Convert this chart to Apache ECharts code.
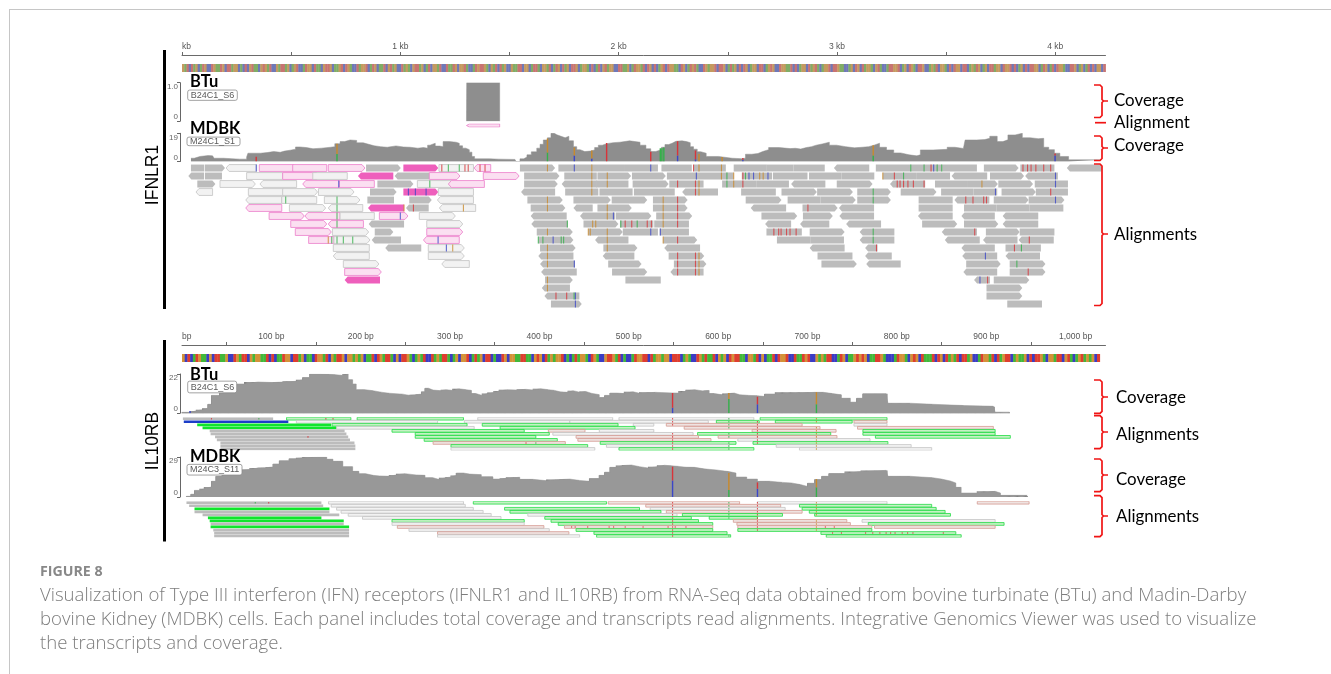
<!DOCTYPE html>
<html><head><meta charset="utf-8">
<style>
html,body{margin:0;padding:0;background:#fff;width:1331px;height:674px;overflow:hidden}
#frame{position:absolute;left:9px;top:9px;width:1340px;height:700px;border:1px solid #c6c6c6;box-sizing:border-box}
#chart{position:absolute;left:0;top:0;width:1331px;height:674px;filter:blur(0.35px)}
.cap{position:absolute;left:40px;font-family:"Open Sans",Lato,sans-serif;color:#7d7d7d;white-space:nowrap}
</style>
<script src="https://cdn.jsdelivr.net/npm/echarts@6/dist/echarts.min.js"></script>
</head><body>
<div id="frame"></div>
<div id="chart"></div>
<div class="cap" style="top:561px;font-size:14.2px;font-weight:700;color:#888">FIGURE 8</div>
<div class="cap" style="top:582px;font-size:18.6px;line-height:24px;font-weight:300">Visualization of Type III interferon (IFN) receptors (IFNLR1 and IL10RB) from RNA-Seq data obtained from bovine turbinate (BTu) and Madin-Darby<br>bovine Kidney (MDBK) cells. Each panel includes total coverage and transcripts read alignments. Integrative Genomics Viewer was used to visualize<br>the transcripts and coverage.</div>
<script>
// ---------- data ----------
const ifnMaxBp = 4230, ilMaxBp = 1033.5;
const ifnLabelTicks = [0,1000,2000,3000,4000];
const ifnMinorTicks = [0,500,1000,1500,2000,2500,3000,3500,4000];
const ilLabelTicks = [0,100,200,300,400,500,600,700,800,900,1000];
const ilMinorTicks = [50,150,250,350,450,550,650,750,850,950];

const ifnSeq = "GATCTAGCATGCCTGAATGCTTAGGCACTCGTAACGTGATCCGATTAGCAGTCCATGGCTAACGTTGCAAGTCTGACCTAGGTCATGCAATCGTAGCCTAGACGTTAGCATCGGATCCTAATGCGGTACCATGTTGACGATCTAGCCGAATTCGGCATTACGGATCATGCTAGCTTGCAGGACTCATCGTAGGCCTTAAGCATGGATCTGCTCAGTCTGGAACTGCATGTACCTGAGGTCTTGCATAGCTCTGCAGGCTTCAGTGCCTGGAATCTCAGGCTAGTACAGGTCTTGAACCAGCTGCTAGGACGTACCATTGGTCAGCTGACTTGCCAGATCGGACTCTGGCTTCAGATGCAGCTTAGGCTGGTCTCAGCTCTTGGCATGCATCTGGACCTTGCAGCATCTCGGCT";
const ilSeq = "GCTCATGAACGCTTAAGCCTGATTCGAGGAATCTCAATGGCTTAGCAACTGGATCGATTGCGGAGAGCAATCTGATTACGCTTGACAGATCCTAGATTACAGCGGTCATAGCTTCACCTGCGGAATTAACGTGCTAGAGGTCACATAGGACTGACCGTTGATCACCATGGTTCTAGGAGGCTTTCAGACCTGATAATCGAGCTGTTAACGGATCGCAATCTGGTCCTAATGTCCGAGATTCCATGCAAGTGTGCAATTGACCCATGGACGTGCTAAATCTGCTAGATCTTAGCCATGGATCTAGTTCAGAAGCTCTTGACGGATTCGTACAGTAGAGCT";

const ifnBtuCov = [[1303,0],[1304,1],[1455,0]];
const ifnBtuRead = ["p1303-1455<"];
const ifnMdbkCov = [[41,2.2],[56,2.8],[70,3.4],[82,4],[120,3.8],[140,4],[147,2.2],[190,1.6],[265,1.6],[296,3],[302,5.6],[342,5.6],[360,6],[390,6.7],[420,6.2],[450,7],[470,7.6],[495,8.3],[520,9.8],[540,9.4],[570,8.6],[600,9],[640,9.6],[680,10],[700,12],[724,13.4],[745,14.5],[770,14.2],[800,12.6],[830,11.6],[855,10.6],[880,10],[910,9.6],[940,10.5],[980,9.8],[1014,9.6],[1045,9],[1080,9.4],[1106,9],[1125,11],[1136,12.3],[1160,10.4],[1180,10],[1196,13.4],[1225,13],[1255,12.3],[1270,10.6],[1285,9],[1300,8],[1316,6.3],[1328,3.4],[1340,1.8],[1410,1.6],[1450,1.4],[1525,1.1],[1530,0],[1548,1.8],[1565,3],[1580,4.5],[1600,6.5],[1625,9],[1640,11.6],[1655,14.5],[1674,16],[1690,19],[1705,18],[1717,17],[1736,16],[1755,17],[1772,14],[1793,10],[1808,8],[1823,6.7],[1845,7],[1870,7.8],[1890,9.4],[1907,11],[1925,12],[1945,12.7],[1975,13],[2006,13.9],[2050,13],[2098,11],[2125,8.6],[2147,6.7],[2170,8],[2196,9.6],[2212,11.4],[2229,12.3],[2245,13.6],[2262,13.9],[2290,13.4],[2311,12.7],[2328,10],[2343,8.3],[2360,6.6],[2376,5.6],[2401,3.4],[2458,2.2],[2520,1.9],[2564,2.2],[2581,4.9],[2610,5.4],[2638,6.7],[2660,8],[2687,9.4],[2735,8.7],[2785,8.9],[2810,8.4],[2834,9.4],[2860,10],[2883,11],[2905,11.8],[2932,13],[2965,11],[2998,10],[3040,9.2],[3080,9.6],[3115,10],[3145,11],[3170,12.3],[3195,9.6],[3227,7.8],[3260,5.8],[3292,4.5],[3330,3.8],[3366,4.5],[3382,7.8],[3440,8.2],[3505,9.6],[3540,8.8],[3579,10],[3587,14.5],[3640,14.8],[3677,15.6],[3700,17],[3734,13.4],[3760,14.6],[3783,17.9],[3816,19],[3849,16],[3885,15.4],[3922,15.6],[3947,9.6],[3970,8],[3996,5.6],[4021,3.4],[4061,1.1],[4210,1.1]];
const ifnMdbkCovMarks = [[340,0,3.2,'T'],[710,0,5,'A'],[710,5,12,'G'],[1674,0,6,'A'],[1674,6,15.5,'G'],[1797,0,4,'C'],[1797,4,9.5,'G'],[1877,0,2,'C'],[1877,2,7.4,'G'],[1945,0,12.4,'T'],[2147,0,6.5,'T'],[2191,0,9,'A'],[2198,0,9,'A'],[2207,0,9.5,'A'],[2270,0,4,'C'],[2270,4,13.6,'T'],[2352,0,1.5,'C'],[2352,1.5,7.4,'T'],[2368,0,5,'G'],[2474,0,3,'G'],[2569,0,1.2,'C'],[2569,1.2,2.4,'T'],[3166,0,4,'A'],[3166,4,11,'G'],[3999,0,4,'C'],[3999,4,5.4,'T']];
const ifnMdbkLanes = [
"g41-102 g105-197> w202-342< p354-510 p507-663 p670-838> g843-1002> m1014-1174> w1177-1335 p1338-1414< g1548-1709> g1724-1877 g1877-2029 g2029-2180 g2196-2335 g2343-2491 g2527-2679 g2679-2801 g2801-2944 g2986-3148< g3178-3338 g3338-3485 g3485-3641 g3673-3832> g3840-3996 g4053-4212<",
"g29-101< g105-183 w296-461 p461-617 w599-757 m806-968< g974-1133< p1133-1273> p1380-1544> g1567-1729> g1751-1900 g1903-2057> g2061-2216> g2221-2368 g2368-2527 g2564-2703 g2707-2865 g2872-3021 g3021-3171 g3210-3366 g3366-3518 g3525-3688< g3701-3857> g3862-4012<",
"g70-153> w174-336> w357-525< p553-721< p721-881 g895-1060> w1078-1235 p1220-1385< g1567-1721> g1739-1900< g1897-2045 g2064-2229> g2232-2389 g2474-2630 g2630-2780 g2790-2947< g2999-3163> g3243-3404< g3449-3600 g3600-3737> g3739-3898> g3906-4058",
"w64-140< w304-464 w461-621> w625-788> g861-983> m1014-1174> w1174-1335 g1553-1709< g1755-1907 g1912-2064 g2070-2257 g2291-2455< g2561-2720 g2746-2908> g2909-3073> g3093-3247> g3292-3456> g3477-3625 g3625-3734 g3754-3911> g3911-4058",
"w292-457< w457-617 w652-815> g849-971 g1041-1144> w1170-1335< g1582-1744> g1793-1964> g1968-2131> g2157-2316> g2582-2746> g2774-2924 g2924-3086> g3093-3247> g3374-3530 g3538-3698< g3718-3878> g3878-4042>",
"p292-457< w492-658> w670-828< m852-1017< g1026-1130< w1179-1345< g1597-1756> g1793-1881< g1903-2060> g2157-2316> g2605-2767< g2842-3003> g3009-3170< g3374-3530 g3582-3730 g3730-3881 g3881-4037",
"p399-560> p563-724< w724-881 p904-1035> w1087-1252> g1597-1762< g1823-1984< g1987-2150> g2172-2337> g2654-2818> g2844-2981> g3011-3170< g3371-3530< g3570-3723< g3759-3922<",
"p498-663> p670-831< g855-1017< w1121-1286> g1600-1767< g1839-1999> g2006-2159 g2163-2322 g2671-2790< g2831-2965< g3042-3202< g3390-3551> g3582-3739> g3759-3922<",
"p519-684> w689-855> g883-968> p1121-1286> g1625-1790> g1861-2019> g2019-2180 g2188-2322 g2677-2839 g2875-3035> g3104-3263< g3480-3641< g3682-3837> g3837-3996",
"p580-696 w696-861> g869-1003< p1106-1270< g1632-1793> g1892-2045< g2204-2360> g2725-2880 g2880-3032 g3104-3263< g3494-3654< g3669-3827< g3832-3993<",
"w693-858 g931-1096< w1128-1293> g1640-1803> g1930-2086> g2209-2373< g2875-3035< g3129-3186< g3570-3723< g3772-3934",
"w693-858< w1128-1293> g1632-1793< g1927-2072< g2229-2392> g2911-3071 g3129-3251< g3574-3734< g3772-3930<",
"w739-902> w1190-1316< g1640-1800< g1952-2105> g2253-2402> g2929-3091> g3134-3292< g3592-3750> g3791-3955>",
"p745-913> g1645-1808< g1970-2131> g2237-2389< g3579-3734< g3791-3955>",
"m745-907< g1663-1790> g2031-2193 g3628-3701< g3718-3881>",
"g1648-1777< g3685-3849>",
"g1660-1820< g3685-3849>",
"g1690-1831> g3780-3939"];
const ifnMdbkMarks = [[340,'C',[0]],[475,'A',[4]],[710,'A',[4,5,6,7,9]],[718,'C',[2]],[670,'G',[9]],[686,'A',[9]],[739,'A',[9]],[782,'A',[9]],[1000,'C',[6]],[1017,'G',[5]],[1037,'C',[3]],[1069,'C',[3]],[1118,'C',[3]],[1060,'T',[5]],[1289,'G',[5]],[1135,'A',[2]],[1173,'C',[9]],[1211,'C',[10]],[1240,'G',[10]],[1190,'T',[0]],[1220,'A',[0]],[1270,'A',[0]],[1296,'T',[0]],[1311,'T',[0]],[1365,'T',[0]],[1388,'T',[0]],
[1674,'G',[0,4,5,8,10,11,12,14,15]],[1632,'A',[9]],[1653,'A',[9]],[1700,'C',[9]],[1737,'A',[9]],[1748,'A',[9]],[1765,'A',[7]],[1797,'C',[0,12]],[1877,'G',[0,1,2,3]],[1861,'G',[8]],[1870,'G',[8]],[1881,'G',[7]],[1895,'G',[7]],[1948,'G',[1,2,5,6,8,9,10]],[1976,'C',[6]],[2010,'A',[7]],[2030,'T',[7]],[2060,'T',[7]],[2085,'A',[7]],[1713,'T',[16]],[1762,'T',[16]],[1796,'A',[16]],[1802,'C',[16,17]],
[2147,'C',[0,8]],[2191,'C',[0,8]],[2343,'T',[0]],[2368,'G',[0,2,3,11,12,13]],[2471,'G',[0,1]],[3338,'A',[0]],[3399,'A',[0]],[3431,'T',[0]],[3443,'C',[0]],[3459,'A',[0]],[3480,'A',[0]],[3852,'T',[0]],[3873,'T',[0]],[3889,'T',[0]],[3911,'T',[0]],[3947,'T',[0]],[3979,'T',[0]],
[2356,'C',[1]],[2496,'A',[1,2]],[2527,'G',[1,2]],[2569,'T',[1,2]],[2581,'A',[1]],[2597,'C',[1]],[2618,'C',[1]],[2646,'G',[1]],[2662,'G',[1]],[2684,'C',[1]],[3210,'G',[1]],[3263,'T',[1]],[3305,'A',[1]],[4001,'C',[1,2,4]],
[2270,'T',[2,4,5,6,7,9,11,12,13]],[2352,'T',[2,3,11,12,13]],[3276,'T',[2]],[3289,'T',[2]],[3305,'T',[2]],[3325,'T',[2]],[3350,'T',[2]],[3399,'T',[2]],[3664,'G',[2]],
[3166,'A',[3,4,8,9]],[3726,'C',[3]],[3979,'T',[3]],[2204,'G',[4,5,6,7,9]],[3590,'T',[4]],[3623,'T',[4]],[3672,'T',[4]],[3685,'T',[4]],[2867,'T',[5]],[2131,'T',[7]],[2150,'T',[7]],
[2711,'T',[8]],[2733,'T',[8]],[2744,'T',[8]],[2769,'T',[8]],[2785,'T',[8]],[2813,'T',[8]],[3631,'T',[8]],[3881,'T',[9]],[3181,'T',[10]],[3813,'T',[10]],[3845,'A',[10]],[3680,'C',[11]],[3824,'A',[12]],[3876,'T',[13]],[3655,'C',[14]],[3690,'T',[14]]];

const ilBtuCov = [[0,0.5],[9,1.3],[16,1.9],[23,2.8],[29,5],[33,10],[42,11.3],[46,14],[52,15],[59,16.4],[70,17.5],[85,17.2],[102,17.5],[113,17.9],[128,18.8],[135,20],[143,22],[155,21.8],[165,21.6],[172,21.2],[180,22],[186,18.8],[191,16.4],[195,13.2],[205,12.6],[214,11.8],[223,11.2],[232,10.7],[247,10],[255,10.4],[262,10.7],[268,12],[272,14],[276,13],[281,12.6],[290,13.2],[296,12.8],[303,13.7],[310,13.2],[318,12.8],[324,11],[329,10],[336,11],[342,11.6],[349,12.4],[355,13.2],[365,13],[375,13.4],[385,13],[393,13.7],[402,13.2],[410,12.8],[417,12],[423,11.7],[432,12.6],[438,11.8],[445,12.2],[452,11.2],[458,10.4],[467,8.8],[473,10],[479,11.3],[487,11],[495,12],[505,11.2],[512,11.7],[530,11.4],[548,11.3],[556,12.4],[564,13.2],[574,12.4],[584,12.8],[590,11],[596,10.3],[605,11],[612,11.3],[618,10.4],[624,10],[634,9.8],[644,9.4],[652,10.8],[664,11.7],[708,11.7],[718,11],[728,10.3],[738,8.4],[748,6.2],[755,8.4],[762,10.9],[788,10.9],[790,5.6],[815,5],[840,4.3],[875,3.9],[908,3.6],[910,0.6],[926,0.6]];
const ilBtuCovMarks = [[9,0,1.3,'C'],[549,0,3,'C'],[549,3,11.4,'T'],[612,0,8,'A'],[612,8,11.3,'G'],[644,0,5,'C'],[644,5,9.2,'T'],[710,0,5,'A'],[710,5,11.7,'G']];
const ilBtuLanes = [
"g1-102 e117-189 e196-315 w331-482 w489-640 e647-789",
"B2-119 w128-286 w316-434 w434-589 e598-646 e664-750 r752-789",
"G17-167 e168-319 e336-488 w505-528 r542-694 w752-789",
"G23-173 w173-327 e356-507 r562-714 r756-908",
"g31-182 e235-383 r410-451 w467-528 r638-732 e762-910",
"g32-184 e261-411 w415-572 e577-726 e762-910",
"g37-186 e261-396 r441-578 r600-733 e776-927",
"g39-188 e271-420 r443-592 w622-770",
"g43-193 r281-429 e468-620 e639-790",
"g43-194 e301-454 w475-612 w665-816",
"g43-194 w301-462 e489-640 w691-839"];
const ilBtuMarks = [[549,'T',[0,1,2,3,4,5,6,7,8,9,10]],[612,'A',[0,1,2,3,4,5,6,7,8,9,10]],[644,'T',[0,1,2,3,4,5,6,7,8,9,10]],[710,'G',[0,1,2,3,4,5,6,7,8,9,10]],[161,'T',[0]],[169,'T',[0]],[141,'T',[6]],[385,'T',[8]],[396,'A',[8]],[33,'T',[0]],[86,'A',[0]]];

const ilMdbkCov = [[5,0.5],[10,2],[14,4.8],[20,6],[25,7.3],[33,11.4],[38,15],[45,17],[53,19.3],[65,20],[76,21],[85,21.2],[94,21.8],[102,24],[109,26.3],[120,27.8],[128,28.4],[135,29],[154,29],[162,27.4],[169,25.9],[180,22],[191,18.6],[198,16.8],[206,15.7],[214,15.3],[221,15],[232,16],[240,16.9],[250,16],[262,15.7],[272,14],[281,12.6],[288,14],[295,14.4],[301,15.6],[307,17.4],[315,16.6],[322,16.2],[335,14.6],[348,13],[356,13.6],[363,14.3],[378,12.8],[393,11.8],[408,12.6],[423,13],[434,12],[445,11.4],[456,13.4],[467,15.7],[473,18],[479,21.5],[486,22.8],[493,23.2],[503,22],[512,21],[522,22],[532,23],[540,22.6],[548,22.2],[556,21.6],[564,21.5],[574,20.4],[584,19.6],[598,18.4],[612,17.4],[620,14.5],[632,13],[644,11.4],[658,10.6],[672,10.2],[682,9],[692,7.7],[700,10],[708,12.6],[716,15],[724,17],[742,18.4],[760,19.3],[788,19.3],[790,15],[815,14],[840,13],[850,11.6],[860,10.2],[866,7],[872,2.9],[890,4.1],[910,2.9],[916,1.2],[946,0.7]];
const ilMdbkCovMarks = [[549,0,12,'C'],[549,12,22,'T'],[612,0,5,'A'],[612,5,17.4,'G'],[644,0,6,'C'],[644,6,10.6,'T'],[710,0,7,'A'],[710,7,13,'G']];
const ilMdbkLanes = [
"g5-156 w164-315 e326-475 r477-624 w644-789 r890-948",
"g8-158 w167-317 r519-670 e691-839",
"G14-165 w173-326 e361-512 w524-675 e694-844",
"g14-165 w178-337 e367-536 r542-694 e702-854",
"g23-176 w186-346 w387-554 e560-672 e708-860",
"G29-156 w202-357 e406-570 e590-644",
"G31-181 e235-383 e413-578 r617-744 w761-910",
"g32-181 w235-383 e421-594 r621-748 e768-920",
"G32-187 r241-405 r428-594 r622-772 r775-910",
"g35-187 w254-411 e441-594 e622-772",
"g36-187 r286-433 e461-610 e715-866",
"g36-187 w286-445 e464-614 e721-872"];
const ilMdbkMarks = [[549,'T',[0,1,2,3,4,5,6,7,8,9,10,11]],[612,'A',[0,1,2,3,4,5,6,7,8,9,10,11]],[644,'T',[0,1,2,3,4,5,6,7,8,9,10,11]],[710,'G',[0,1,2,3,4,5,6,7,8,9,10,11]],[97,'T',[0]],[82,'A',[0]],[436,'T',[8]],[440,'T',[8]],[454,'T',[8]],[478,'T',[8]],[483,'T',[8]],[496,'T',[8]],[516,'T',[8]],[544,'T',[8]],[552,'T',[8]],[564,'T',[8]],[720,'T',[8]],[730,'T',[8]],[728,'T',[10]],[738,'T',[10]],[765,'T',[10]],[773,'T',[10]],[781,'T',[10]],[788,'T',[10]],[793,'T',[10]],[798,'T',[10]],[806,'T',[10]],[812,'T',[10]],[818,'T',[10]],[852,'T',[10]]];

// ---------- styles ----------
const baseMuted = {A:'#35b04a',C:'#3b46c8',G:'#c98a2c',T:'#d8343a'};
const baseStripMuted = {A:'#80ad66',C:'#6f78b8',G:'#c59a60',T:'#c87472'};
const baseStripBright = {A:'#42b83a',C:'#3c3cc4',G:'#d49238',T:'#de3e30'};
const kindStyle = {
  g:{fill:'#bcbcbc',stroke:null}, w:{fill:'#f2f2f2',stroke:'#c4c4c4'},
  p:{fill:'#fbdff1',stroke:'#ec7fcb'}, m:{fill:'#ee5fbc',stroke:null},
  e:{fill:'#c4f2c4',stroke:'#22dc44'}, G:{fill:'#10e52c',stroke:null},
  B:{fill:'#1c3dc8',stroke:null}, r:{fill:'#efe3e1',stroke:'#d59a92'}
};
const parseLanes = lanes => { const out=[]; lanes.forEach((s,i)=>s.split(' ').forEach(t=>{
  const m=t.match(/^([a-zA-Z])(\d+)-(\d+)([<>]?)$/);
  out.push([i,+m[2],+m[3],m[1],m[4]==='>'?1:m[4]==='<'?-1:0]);
})); return out; };
// depth of the coverage track at each base, held constant between the read-off steps
const perBase = (cov,end) => { const out=[]; let k=0;
  for(let b=Math.ceil(cov[0][0]);b<=end;b++){ while(k+1<cov.length&&cov[k+1][0]<=b)k++; out.push([b,cov[k][1]]); }
  return out; };

// ---------- option assembly ----------
const grids=[],xAxes=[],yAxes=[],series=[];
function panel(top,height,xMax,yCfg){
  const i=grids.length;
  grids.push({left:182,right:1331-1105.5,top,height,containLabel:false});
  xAxes.push({type:'value',gridIndex:i,min:0,max:xMax,show:false});
  yAxes.push(Object.assign({type:'value',gridIndex:i,show:false,splitLine:{show:false}},yCfg));
  return i;
}
function ruler(top,xMax,labels,ticks,unit,strip,seq){
  const i=panel(top,8,xMax,{min:0,max:1});
  xAxes[i]={type:'value',gridIndex:i,min:0,max:xMax,position:'top',offset:9,
    splitLine:{show:false},
    axisLine:{show:true,onZero:false,lineStyle:{color:'#6a6a6a',width:1}},
    axisTick:{show:true,customValues:ticks,length:3,lineStyle:{color:'#6a6a6a'}},
    axisLabel:{show:true,customValues:labels,margin:4,fontSize:8.5,color:'#555',fontFamily:'Liberation Sans',alignMinLabel:'left',
      formatter:unit}};
  const step=strip/seq.length;
  const data=seq.split('').map((b,k)=>[k*step,k*step+step,b]);
  const pal=top<200?baseStripMuted:baseStripBright;
  series.push({type:'custom',xAxisIndex:i,yAxisIndex:i,silent:true,data:data.map(d=>[d[0],d[1]]),
    renderItem:(p,api)=>{const a=api.coord([api.value(0),1]),b=api.coord([api.value(1),0]);
      return {type:'rect',shape:{x:a[0],y:a[1],width:b[0]-a[0]+0.4,height:b[1]-a[1]},style:{fill:pal[data[p.dataIndex][2]]}};}});
}
function coverage(top,height,xMax,yMax,label,cov,marks,striped){
  const i=panel(top,height,xMax,{min:0,max:yMax,interval:yMax,show:true,position:'left',offset:2,
    axisLine:{show:true,onZero:false,lineStyle:{color:'#666',width:1}},
    axisTick:{show:true,length:3,lineStyle:{color:'#666'}},
    axisLabel:{show:true,fontSize:8,color:'#666',margin:2,fontFamily:'Liberation Sans',verticalAlignMaxLabel:'top',verticalAlignMinLabel:'bottom',
      formatter:v=>v===0?'0':label}});
  series.push({type:'line',xAxisIndex:i,yAxisIndex:i,step:'end',symbol:'none',silent:true,data:cov,
    lineStyle:{width:0.5,color:striped?'#969696':'#8e8e8e'},areaStyle:{color:striped?'#989898':'#8e8e8e',opacity:1}});
  if(striped) series.push({type:'bar',xAxisIndex:i,yAxisIndex:i,silent:true,barWidth:0.65,itemStyle:{color:'#808080'},
    data:perBase(cov,cov[cov.length-1][0])});
  if(marks&&marks.length) series.push({type:'custom',xAxisIndex:i,yAxisIndex:i,silent:true,clip:true,z:5,
    data:marks.map(m=>[m[0],m[1],m[2]]),
    renderItem:(p,api)=>{const a=api.coord([api.value(0),api.value(2)]),b=api.coord([api.value(0),api.value(1)]);
      return {type:'rect',shape:{x:a[0]-0.7,y:a[1],width:1.4,height:b[1]-a[1]},style:{fill:baseMuted[marks[p.dataIndex][3]]}};}});
  return i;
}
function readsPanel(top,height,xMax,lanes,marks,frac,arrow,markFrac){
  const n=lanes.length, i=panel(top,height,xMax,{min:-0.5,max:n-0.5,inverse:true});
  const reads=parseLanes(lanes);
  series.push({type:'custom',xAxisIndex:i,yAxisIndex:i,silent:true,clip:true,
    data:reads.map(r=>[r[0],r[1],r[2]]),
    renderItem:(p,api)=>{
      const r=reads[p.dataIndex],a=api.coord([r[1],r[0]]),b=api.coord([r[2],r[0]]);
      const h=api.size([0,1])[1]*frac/2,y=a[1],x0=a[0],x1=b[0],st=kindStyle[r[3]];
      const pts = r[4]===1?[[x0,y-h],[x1-arrow,y-h],[x1,y],[x1-arrow,y+h],[x0,y+h]]
        : r[4]===-1?[[x0+arrow,y-h],[x1,y-h],[x1,y+h],[x0+arrow,y+h],[x0,y]]
        : [[x0,y-h],[x1,y-h],[x1,y+h],[x0,y+h]];
      return {type:'polygon',shape:{points:pts},style:{fill:st.fill,stroke:st.stroke||null,lineWidth:0.8}};
    }});
  const flat=[];
  (marks||[]).forEach(m=>m[2].forEach(l=>{
    if(reads.some(r=>r[0]===l&&r[1]<=m[0]&&r[2]>=m[0])) flat.push([l,m[0],m[1]]);
  }));
  if(flat.length) series.push({type:'custom',xAxisIndex:i,yAxisIndex:i,silent:true,clip:true,z:5,
    data:flat.map(f=>[f[0],f[1]]),
    renderItem:(p,api)=>{
      const f=flat[p.dataIndex],a=api.coord([f[1],f[0]]),h=api.size([0,1])[1]*markFrac/2;
      return {type:'rect',shape:{x:a[0]-0.55,y:a[1]-h,width:1.1,height:2*h},style:{fill:baseMuted[f[2]],opacity:0.8}};
    }});
}
ruler(64,ifnMaxBp,ifnLabelTicks,ifnMinorTicks,v=>v===0?'kb':(v/1000)+' kb',4230,ifnSeq);
coverage(82.7,38.5,ifnMaxBp,1,'1.0',ifnBtuCov);
readsPanel(123.5,4,ifnMaxBp,ifnBtuRead,[],0.8,3,0.8);
coverage(133.3,28.2,ifnMaxBp,19,'19',ifnMdbkCov,ifnMdbkCovMarks);
readsPanel(164,144,ifnMaxBp,ifnMdbkLanes,ifnMdbkMarks,0.86,3,0.86);
ruler(354,ilMaxBp,ilLabelTicks,ilMinorTicks,v=>v===0?'bp':(v===1000?'1,000':v)+' bp',1027,ilSeq);
coverage(374,39.2,ilMaxBp,22,'22',ilBtuCov,ilBtuCovMarks,true);
readsPanel(417.2,33.3,ilMaxBp,ilBtuLanes,ilBtuMarks,0.9,0,0.5);
coverage(457,40,ilMaxBp,29,'29',ilMdbkCov,ilMdbkCovMarks,true);
readsPanel(501.2,36.4,ilMaxBp,ilMdbkLanes,ilMdbkMarks,0.9,0,0.5);

// ---------- annotations ----------
const gfx=[];
const txt=(x,y,text,size,extra={})=>gfx.push(Object.assign({type:'text',x,y,z:50,silent:true,
  style:Object.assign({text,fontSize:size,fontFamily:'Lato',fill:'#000',verticalAlign:'middle'},extra.style||{})},extra.el||{}));
const chip=(cx,cy,w,h,t)=>{
  gfx.push({type:'rect',z:49,silent:true,shape:{x:cx,y:cy-h/2,width:w,height:h,r:2},style:{fill:'#fff',stroke:'#8c8c8c',lineWidth:0.8}});
  txt(cx+3,cy+0.3,t,9,{style:{fontFamily:'Liberation Sans',fill:'#5a5a5a'}});
};
[[190,82,'BTu'],[190,129,'MDBK'],[190,375,'BTu'],[190,457,'MDBK']].forEach(a=>txt(a[0],a[1],a[2],16.5,{style:{fontWeight:'bold'}}));
chip(187.7,95.2,49.6,10.3,'B24C1_S6');chip(187,141.4,53,8.6,'M24C1_S1');chip(187.7,387,49,11.7,'B24C1_S6');chip(187,469.7,55,10.7,'M24C3_S11');
[[163,50,309],[163,340,541.5]].forEach(b=>gfx.push({type:'rect',z:40,silent:true,shape:{x:b[0],y:b[1],width:3,height:b[2]-b[1]},style:{fill:'#000'}}));
[[153,175,'IFNLR1'],[153,441,'IL10RB']].forEach(a=>gfx.push({type:'text',x:a[0],y:a[1],rotation:Math.PI/2,z:50,silent:true,
  style:{text:a[2],fontSize:17.5,fontFamily:'Liberation Sans',fill:'#000',align:'center',verticalAlign:'middle'}}));
[[1114,100.8,'Coverage'],[1114,122.8,'Alignment'],[1114,145.8,'Coverage'],[1114,234.8,'Alignments'],[1116,397.8,'Coverage'],[1116,434.8,'Alignments'],[1116,479.8,'Coverage'],[1116,516.8,'Alignments']]
  .forEach(a=>txt(a[0],a[1],a[2],16.9));
const brace=(t,m,b)=>gfx.push({type:'polyline',z:50,silent:true,
  shape:{points:[[1094,t],[1100,t],[1102,t+2],[1102,m-1.5],[1103.5,m],[1108,m],[1103.5,m],[1102,m+1.5],[1102,b-2],[1100,b],[1094,b]]},
  style:{stroke:'#f01414',lineWidth:1.7,fill:null}});
brace(85,101,117.5);brace(136,148,160.5);brace(164,234,305.5);
brace(380,397,413.3);brace(415.7,432,448.7);brace(459,475,491.7);brace(495.7,516,536.7);
gfx.push({type:'line',z:50,silent:true,shape:{x1:1095,y1:122.7,x2:1106,y2:122.7},style:{stroke:'#f01414',lineWidth:1.7}});

const chart=echarts.init(document.getElementById('chart'),null,{renderer:'canvas'});
chart.setOption({animation:false,backgroundColor:'transparent',grid:grids,xAxis:xAxes,yAxis:yAxes,series,graphic:gfx,tooltip:{show:false},legend:{show:false}});
</script>
</body></html>
